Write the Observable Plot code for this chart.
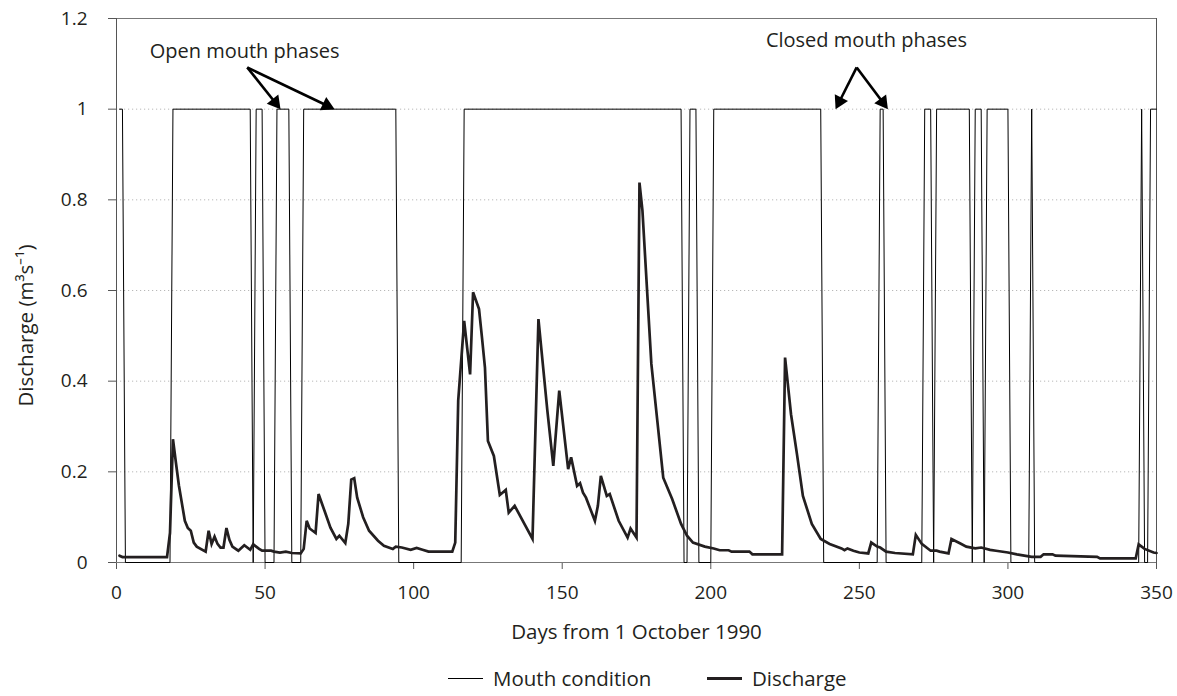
<!DOCTYPE html>
<html>
<head>
<meta charset="utf-8">
<script src="https://cdn.jsdelivr.net/npm/d3@7"></script>
<script src="https://cdn.jsdelivr.net/npm/@observablehq/plot@0.6"></script>
<style>
  body { margin: 0; background: #fff; font-family: "Open Sans", sans-serif; color: #231f20; }
  #chart svg { display: block; }
  #legend { height: 36px; display: flex; align-items: center; padding-left: 448px; font-size: 20.5px; color: #231f20; }
  .item { display: flex; align-items: center; }
  .item .ln { width: 35px; margin-right: 10px; background: #231f20; }
</style>
</head>
<body>
<div id="chart"></div>
<div id="legend">
  <div class="item" style="width:259px"><span class="ln" style="height:1px;background:#000"></span><span>Mouth condition</span></div>
  <div class="item"><span class="ln" style="height:3px"></span><span>Discharge</span></div>
</div>
<script>
// ---- Data ----
const xTicks = [0, 50, 100, 150, 200, 250, 300, 350];
const yTicks = [0, 0.2, 0.4, 0.6, 0.8, 1, 1.2];
const gridValues = [0.2, 0.4, 0.6, 0.8, 1];

// Mouth condition (1 = open, 0 = closed), vertices by day
const mouthDays   = [1,2,3,18,19,45,46,47,49,50,53,54,58,59,62,63,94,95,116,117,190,191,192,193,195,196,200,201,237,238,256,257,258,259,271,272,274,275,276,287,288,289,291,292,293,300,301,307,308,309,344,345,346,347,348,350];
const mouthValues = [1,1,0,0, 1, 1, 0, 1, 1, 0, 0, 1, 1, 0, 0, 1, 1, 0, 0,  1,  1,  0,  0,  1,  1,  0,  0,  1,  1,  0,  0,  1,  1,  0,  0,  1,  1,  0,  1,  1,  0,  1,  1,  0,  1,  1,  0,  0,  1,  0,  0,  1,  0,  0,  1,  1];

// Discharge (m3/s), vertices by day
const dischargeDays = [1,2,17,18,19,20,21,23,24,25,26,27,30,31,32,33,34,35,36,37,38,39,41,43,45,46,47,48,49,52,53,55,57,59,62,63,64,65,67,68,70,72,74,75,77,78,79,80,81,83,85,88,90,93,94,96,99,101,103,105,113,114,115,117,119,120,122,123,124,125,127,129,131,132,134,140,142,145,147,149,152,153,155,156,157,158,161,162,163,165,166,169,172,173,175,176,177,180,182,184,187,190,192,194,198,201,203,206,207,213,214,224,225,227,229,231,234,237,240,244,245,246,248,250,253,254,256,257,259,262,268,269,271,274,276,277,280,281,284,286,289,291,294,296,300,303,308,311,312,315,316,330,331,343,344,346,349,350];
const dischargeValues = [0.015,0.012,0.012,0.065,0.272,0.22,0.17,0.092,0.076,0.07,0.044,0.035,0.024,0.07,0.041,0.057,0.041,0.033,0.033,0.076,0.05,0.035,0.026,0.038,0.028,0.04,0.035,0.03,0.026,0.026,0.024,0.022,0.024,0.021,0.02,0.03,0.092,0.075,0.065,0.151,0.114,0.077,0.052,0.059,0.043,0.085,0.183,0.186,0.143,0.1,0.07,0.048,0.037,0.03,0.035,0.033,0.028,0.032,0.028,0.024,0.024,0.044,0.357,0.533,0.415,0.596,0.559,0.496,0.43,0.268,0.235,0.149,0.16,0.11,0.125,0.052,0.537,0.335,0.213,0.379,0.206,0.232,0.169,0.175,0.154,0.143,0.092,0.125,0.191,0.147,0.151,0.092,0.055,0.075,0.055,0.838,0.776,0.438,0.313,0.187,0.14,0.085,0.059,0.044,0.035,0.031,0.027,0.027,0.024,0.024,0.018,0.018,0.452,0.327,0.239,0.147,0.085,0.052,0.041,0.031,0.027,0.031,0.026,0.022,0.02,0.044,0.035,0.033,0.024,0.021,0.018,0.061,0.041,0.026,0.026,0.024,0.02,0.052,0.042,0.035,0.031,0.033,0.028,0.026,0.022,0.018,0.0125,0.0125,0.018,0.018,0.015,0.0125,0.009,0.009,0.04,0.03,0.022,0.021];

// Annotations
const noteLabels = ["Open mouth phases", "Closed mouth phases"];
const noteX = [43.1, 252.4];
const noteY = [1.128, 1.151];
const arrowFromX = [44.0, 44.0, 249.1, 249.1];
const arrowFromY = [1.092, 1.092, 1.092, 1.092];
const arrowToX   = [55.2, 73.4, 242.0, 259.6];
const arrowToY   = [1.0, 1.0, 1.0, 1.0];

// ---- Build tables ----
const mouth = mouthDays.map((d, i) => ({day: d, value: mouthValues[i]}));
const discharge = dischargeDays.map((d, i) => ({day: d, value: dischargeValues[i]}));
const notes = noteLabels.map((t, i) => ({text: t, x: noteX[i], y: noteY[i]}));

const W = 1177, H = 660, mL = 116, mR = 21, mT = 18, mB = 98;
const xDomain = [0, 350], yDomain = [0, 1.2];
const sx = d3.scaleLinear(xDomain, [mL, W - mR]);
const sy = d3.scaleLinear(yDomain, [H - mB, mT]);
const headR = 5.5, headBack = 2 * Math.sqrt(Math.PI * headR * headR / (3 * Math.sqrt(3)));
const arrows = arrowFromX.map((x0, i) => {
  const px0 = sx(x0), py0 = sy(arrowFromY[i]);
  const px1 = sx(arrowToX[i]), py1 = sy(arrowToY[i]);
  const dx = px1 - px0, dy = py1 - py0, len = Math.hypot(dx, dy);
  const cx = px1 - dx / len * headBack, cy = py1 - dy / len * headBack;
  return {
    x1: x0, y1: arrowFromY[i],
    x2: sx.invert(cx), y2: sy.invert(cy),
    angle: Math.atan2(dx, -dy) * 180 / Math.PI
  };
});

const font = `"Open Sans", sans-serif`;
const plot = Plot.plot({
  width: W, height: H,
  marginLeft: mL, marginRight: mR, marginTop: mT, marginBottom: mB,
  style: {fontFamily: font, fontSize: "19px", color: "#231f20", background: "#fff"},
  x: {domain: xDomain},
  y: {domain: yDomain},
  marks: [
    Plot.gridY(gridValues, {stroke: "#b8b8b8", strokeOpacity: 1, strokeDasharray: "1.2,2.8", strokeWidth: 1}),
    Plot.ruleY([1.2], {stroke: "#777"}),
    Plot.ruleX([350], {stroke: "#555"}),
    Plot.axisX({ticks: xTicks, tickSize: 7, tickPadding: 16, label: null, stroke: "#555", fill: "#231f20", fontSize: 19}),
    Plot.axisY({ticks: yTicks, tickFormat: d => String(d), tickSize: 8, tickPadding: 21, label: null, stroke: "#555", fill: "#231f20", fontSize: 19}),
    Plot.ruleY([0], {stroke: "#777"}),
    Plot.ruleX([0], {stroke: "#555"}),
    Plot.line(mouth, {x: "day", y: "value", stroke: "#000", strokeWidth: 1}),
    Plot.line(discharge, {x: "day", y: "value", stroke: "#231f20", strokeWidth: 2.7, strokeLinejoin: "miter", strokeMiterlimit: 4}),
    Plot.link(arrows, {x1: "x1", y1: "y1", x2: "x2", y2: "y2", stroke: "#000", strokeWidth: 2.6}),
    Plot.dot(arrows, {x: "x2", y: "y2", symbol: "triangle", r: headR, fill: "#000", stroke: "none", rotate: "angle"}),
    Plot.text(notes, {x: "x", y: "y", text: "text", fontSize: 20, fill: "#231f20"}),
    Plot.text(["Days from 1 October 1990"], {text: d => d, frameAnchor: "bottom", dy: 70, textAnchor: "middle", lineAnchor: "middle", fontSize: 20.5, fill: "#231f20"}),
    Plot.text(["Discharge (m³s⁻¹)"], {text: d => d, frameAnchor: "left", dx: -90, dy: 35, textAnchor: "middle", lineAnchor: "middle", rotate: -90, fontSize: 20.5, fill: "#231f20"})
  ]
});
document.getElementById("chart").appendChild(plot);
</script>
</body>
</html>
